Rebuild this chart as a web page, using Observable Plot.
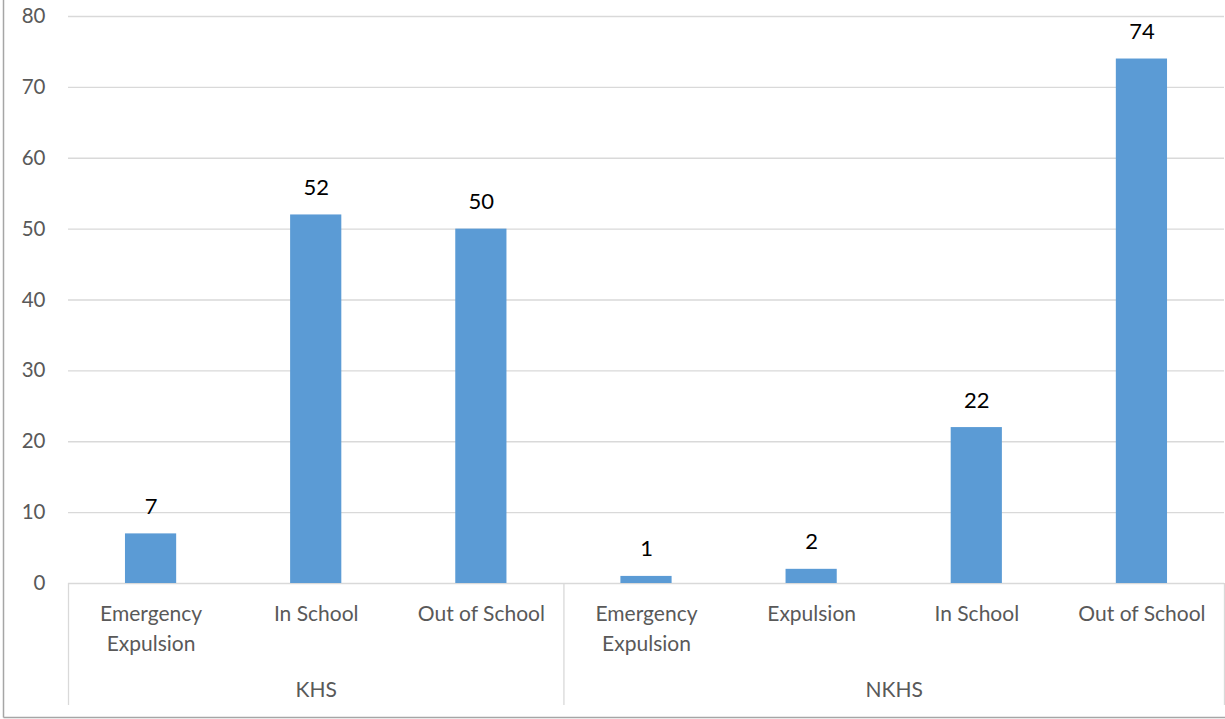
<!DOCTYPE html>
<html>
<head>
<meta charset="utf-8">
<script src="https://cdn.jsdelivr.net/npm/d3@7"></script>
<script src="https://cdn.jsdelivr.net/npm/@observablehq/plot@0.6"></script>
<style>
  html, body { margin: 0; padding: 0; background: #fff; }
  #chart svg { display: block; }
</style>
</head>
<body>
<div id="chart"></div>
<script>
const groups = ["KHS", "KHS", "KHS", "NKHS", "NKHS", "NKHS", "NKHS"];
const categories = ["Emergency\nExpulsion", "In School", "Out of School", "Emergency\nExpulsion", "Expulsion", "In School", "Out of School"];
const values = [7, 52, 50, 1, 2, 22, 74];
const yTicks = [0, 10, 20, 30, 40, 50, 60, 70, 80];

const data = categories.map((c, i) => ({i, category: c, group: groups[i], value: values[i]}));
const groupNames = Array.from(new Set(groups));
const groupData = groupNames.map(g => {
  const idx = data.filter(d => d.group === g).map(d => d.i);
  return {name: g, center: d3.mean(idx), start: d3.min(idx) - 0.5, end: d3.max(idx) + 0.5};
});
const boundaries = Array.from(new Set(groupData.flatMap(g => [g.start, g.end])));

const W = 1225, H = 719;
const mL = 68, mR = 1, mT = 16, mB = 136;
const font = "Lato, 'Open Sans', sans-serif";
const halfBar = 0.155;

const plot = Plot.plot({
  width: W,
  height: H,
  marginLeft: mL,
  marginRight: mR,
  marginTop: mT,
  marginBottom: mB,
  style: {fontFamily: font, background: "#fff", overflow: "visible"},
  x: {type: "linear", domain: [-0.5, categories.length - 0.5], axis: null},
  y: {domain: [0, 80], axis: null},
  marks: [
    Plot.ruleY(yTicks, {y: d => d, stroke: "#d9d9d9", strokeWidth: 1.3}),
    Plot.rectY(data, {x1: d => d.i - halfBar, x2: d => d.i + halfBar, y1: 0, y2: "value", fill: "#5b9bd5"}),
    Plot.text(data, {x: "i", y: "value", text: d => String(d.value), lineAnchor: "bottom", dy: -20, fontSize: 22, fill: "#000"}),
    Plot.text(yTicks, {y: d => d, text: d => String(d), frameAnchor: "left", textAnchor: "end", dx: -23, fontSize: 20.5, fill: "#595959"}),
    Plot.text(data, {x: "i", text: "category", frameAnchor: "bottom", lineAnchor: "top", dy: 16, lineHeight: 1.43, fontSize: 21, fill: "#595959"}),
    Plot.text(groupData, {x: "center", text: "name", frameAnchor: "bottom", lineAnchor: "top", dy: 99, fontSize: 21, fill: "#595959"}),
    Plot.ruleX(boundaries, {x: d => d, stroke: "#d9d9d9", strokeWidth: 1.3, insetTop: H - mT - mB, insetBottom: -122})
  ]
});

const svg = d3.select(plot);
svg.append("line").attr("x1", 3.5).attr("x2", 3.5).attr("y1", 0).attr("y2", 717.5).attr("stroke", "#a6a6a6").attr("stroke-width", 1.5);
svg.append("line").attr("x1", 3.5).attr("x2", W).attr("y1", 717.5).attr("y2", 717.5).attr("stroke", "#a6a6a6").attr("stroke-width", 1.5);

document.getElementById("chart").appendChild(plot);
</script>
</body>
</html>
